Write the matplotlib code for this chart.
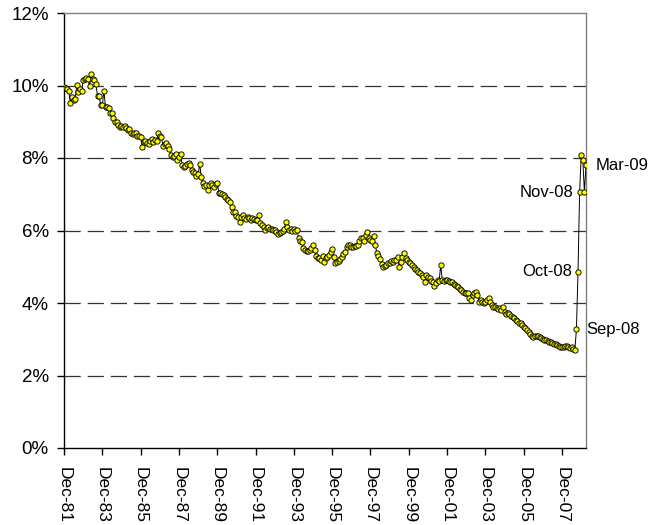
import matplotlib
matplotlib.use("Agg")
import matplotlib.pyplot as plt
import pandas as pd
from matplotlib.ticker import FuncFormatter

# monthly rate (%), Dec-81 .. Mar-09, one row per year starting in December
rate = [
    9.97, 9.93, 9.90, 9.85, 9.51, 9.69, 9.60, 9.62, 10.01, 9.83, 9.90, 9.85,
    10.15, 10.17, 10.20, 10.18, 9.98, 10.32, 10.18, 10.15, 10.03, 9.71, 9.72, 9.46,
    9.45, 9.86, 9.40, 9.40, 9.37, 9.25, 9.23, 9.10, 9.00, 8.98, 8.90, 8.85,
    8.88, 8.86, 8.88, 8.82, 8.78, 8.80, 8.70, 8.66, 8.70, 8.68, 8.60, 8.62,
    8.58, 8.31, 8.45, 8.48, 8.42, 8.40, 8.47, 8.52, 8.43, 8.50, 8.48, 8.68,
    8.62, 8.58, 8.34, 8.40, 8.42, 8.32, 8.25, 8.08, 8.03, 8.05, 8.10, 7.94,
    8.02, 8.12, 7.82, 7.76, 7.78, 7.84, 7.86, 7.80, 7.66, 7.62, 7.58, 7.50,
    7.55, 7.83, 7.48, 7.32, 7.22, 7.26, 7.12, 7.25, 7.30, 7.26, 7.20, 7.28,
    7.32, 7.03, 7.03, 7.00, 6.97, 6.92, 6.88, 6.84, 6.80, 6.66, 6.52, 6.50,
    6.40, 6.38, 6.24, 6.38, 6.42, 6.35, 6.32, 6.38, 6.35, 6.30, 6.35, 6.32,
    6.30, 6.28, 6.43, 6.20, 6.15, 6.10, 6.01, 6.08, 6.10, 6.05, 6.04, 6.02,
    6.01, 5.95, 5.90, 5.92, 5.97, 6.00, 6.05, 6.24, 6.10, 6.02, 6.03, 6.00,
    6.05, 5.98, 6.02, 5.78, 5.72, 5.68, 5.51, 5.45, 5.43, 5.43, 5.47, 5.52,
    5.60, 5.47, 5.30, 5.23, 5.23, 5.20, 5.30, 5.14, 5.23, 5.28, 5.33, 5.41,
    5.50, 5.28, 5.10, 5.13, 5.17, 5.21, 5.28, 5.35, 5.42, 5.55, 5.60, 5.60,
    5.55, 5.54, 5.56, 5.58, 5.60, 5.72, 5.78, 5.80, 5.70, 5.88, 5.97, 5.78,
    5.74, 5.70, 5.86, 5.60, 5.37, 5.30, 5.22, 5.08, 5.00, 5.02, 5.05, 5.10,
    5.09, 5.15, 5.14, 5.20, 5.19, 5.27, 5.00, 5.12, 5.27, 5.37, 5.25, 5.19,
    5.12, 5.09, 5.05, 5.00, 4.95, 4.91, 4.86, 4.82, 4.76, 4.72, 4.58, 4.77,
    4.72, 4.68, 4.62, 4.58, 4.47, 4.54, 4.63, 4.60, 5.05, 4.63, 4.62, 4.63,
    4.63, 4.60, 4.58, 4.57, 4.53, 4.50, 4.48, 4.45, 4.40, 4.36, 4.31, 4.27,
    4.28, 4.27, 4.13, 4.09, 4.22, 4.27, 4.31, 4.22, 4.04, 4.08, 4.04, 4.00,
    4.04, 4.08, 4.13, 4.04, 3.94, 3.90, 3.90, 3.85, 3.83, 3.85, 3.81, 3.90,
    3.76, 3.71, 3.73, 3.69, 3.65, 3.62, 3.58, 3.54, 3.49, 3.46, 3.44, 3.40,
    3.35, 3.30, 3.25, 3.21, 3.15, 3.09, 3.07, 3.08, 3.10, 3.08, 3.07, 3.03,
    3.00, 2.98, 2.97, 2.95, 2.93, 2.92, 2.90, 2.88, 2.86, 2.84, 2.82, 2.80,
    2.78, 2.80, 2.81, 2.82, 2.80, 2.76, 2.78, 2.73, 2.70, 3.27, 4.86, 7.06,
    8.08, 7.94, 7.06, 7.80,
]
months = pd.date_range("1981-12-01", periods=len(rate), freq="MS").strftime("%b-%y")

# labelled points: (month, side of the point the text goes)
callouts = [("Sep-08", "right"), ("Oct-08", "left"), ("Nov-08", "left"), ("Mar-09", "right")]

y_ticks = [0, 2, 4, 6, 8, 10, 12]
grid_levels = [2, 4, 6, 8, 10]


def main():
    plt.rcParams["font.family"] = ["Liberation Sans", "DejaVu Sans"]
    fig = plt.figure(figsize=(6.48, 5.25), dpi=100)
    ax = fig.add_axes([64 / 648, 1 - 448 / 525, 522 / 648, 435 / 525])

    x = list(range(len(rate)))
    for lev in grid_levels:
        ax.axhline(lev, color="#333333", lw=0.9, ls=(0, (13, 5.5)), zorder=1)

    ax.plot(x, rate, color="black", lw=0.7, marker="o", markersize=3.8,
            markerfacecolor="#ffff00", markeredgecolor="black",
            markeredgewidth=0.65, zorder=3)

    ax.set_xlim(0, len(rate) - 1)
    ax.set_ylim(0, 12)
    ax.set_yticks(y_ticks)
    ax.yaxis.set_major_formatter(FuncFormatter(lambda v, p: f"{v:.0f}%"))
    ax.set_xticks(x[::24])
    ax.set_xticklabels(months[::24], rotation=-90, ha="center", va="top")
    ax.tick_params(axis="both", direction="out", length=5, width=1, colors="black")
    ax.tick_params(axis="y", pad=6, labelsize=13.5)
    ax.tick_params(axis="x", pad=9, labelsize=12.5)

    for side in ["left", "bottom"]:
        ax.spines[side].set_color("black")
        ax.spines[side].set_linewidth(1)
    for side in ["top", "right"]:
        ax.spines[side].set_color("#808080")
        ax.spines[side].set_linewidth(1)

    month_list = list(months)
    for name, side in callouts:
        i = month_list.index(name)
        dx = 7 if side == "right" else -4.5
        ax.annotate(name, (i, rate[i]), xytext=(dx, 0), textcoords="offset points",
                    ha="left" if side == "right" else "right", va="center",
                    fontsize=12, annotation_clip=False)

    fig.savefig("out.png", dpi=100)


if __name__ == "__main__":
    main()
